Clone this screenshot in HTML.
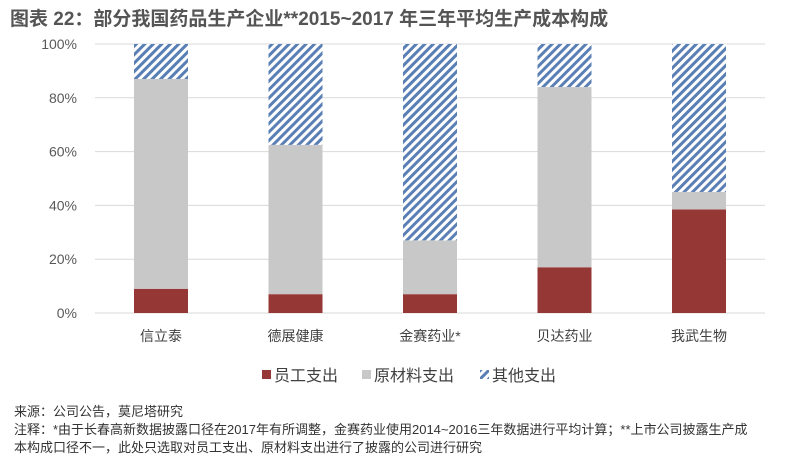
<!DOCTYPE html>
<html><head><meta charset="utf-8"><style>
body{margin:0;width:802px;height:464px;background:#fff;overflow:hidden;font-family:"Liberation Sans","Noto Sans CJK SC",sans-serif;position:relative;}
.t{position:absolute;left:10px;top:4px;font-size:19px;font-weight:bold;color:#555;}
.n{position:absolute;left:14px;font-size:13px;color:#333;line-height:18px;}
</style></head><body>
<div class="t">图表 22：部分我国药品生产企业**2015~2017 年三年平均生产成本构成</div>
<svg id="c" width="802" height="464" style="position:absolute;left:0;top:0">
<defs><pattern id="h" patternUnits="userSpaceOnUse" width="6" height="6" patternTransform="rotate(45)"><rect width="6" height="6" fill="#fff"/><rect width="3" height="6" fill="#5a7fb5"/></pattern></defs>
</svg>
<div class="n" style="top:403px">来源：公司公告，莫尼塔研究</div>
<div class="n" style="top:421px;width:785px">注释：*由于长春高新数据披露口径在2017年有所调整，金赛药业使用2014~2016三年数据进行平均计算；**上市公司披露生产成<br>本构成口径不一，此处只选取对员工支出、原材料支出进行了披露的公司进行研究</div>
<script>
const categories=["信立泰","德展健康","金赛药业*","贝达药业","我武生物"];
const staff=[9,7,7,17,38.5];
const raw=[78,55.5,20,67,6.5];
const other=[13,37.5,73,16,55];
const ticks=[0,20,40,60,80,100];
const svg=document.getElementById('c');const NS='http://www.w3.org/2000/svg';
const y=v=>313-v*2.69, x=i=>161+i*134.5, bw=54;
function mk(t,a,txt){const e=document.createElementNS(NS,t);for(const k in a)e.setAttribute(k,a[k]);if(txt!=null)e.textContent=txt;svg.appendChild(e);return e;}
ticks.forEach(t=>{
const g=mk('line',{x1:95,x2:765,y1:y(t),y2:y(t),stroke:'#d9d9d9'});


const l=mk('text',{x:77,y:y(t)+5,'text-anchor':'end','font-size':14,fill:'#595959'},t+'%');


});
categories.forEach((c,i)=>{
let base=0;
[[staff,'#953735','bar-staff'],[raw,'#c8c8c8','bar-raw'],[other,'url(#h)','bar-other']].forEach(([arr,f,n])=>{
const r=mk('rect',{x:x(i)-bw/2,y:y(base+arr[i]),width:bw,height:arr[i]*2.69,fill:f});


base+=arr[i];});
const l=mk('text',{x:x(i),y:341,'text-anchor':'middle','font-size':14,fill:'#404040'},c);


});
[['#953735',262,'员工支出'],['#c8c8c8',362,'原材料支出'],['url(#h)',480,'其他支出']].forEach(([f,lx,t])=>{
const r=mk('rect',{x:lx,y:370,width:9,height:9,fill:f});


const tx=mk('text',{x:lx+12,y:381,'font-size':16,fill:'#404040'},t);


});
</script>
</body></html>
